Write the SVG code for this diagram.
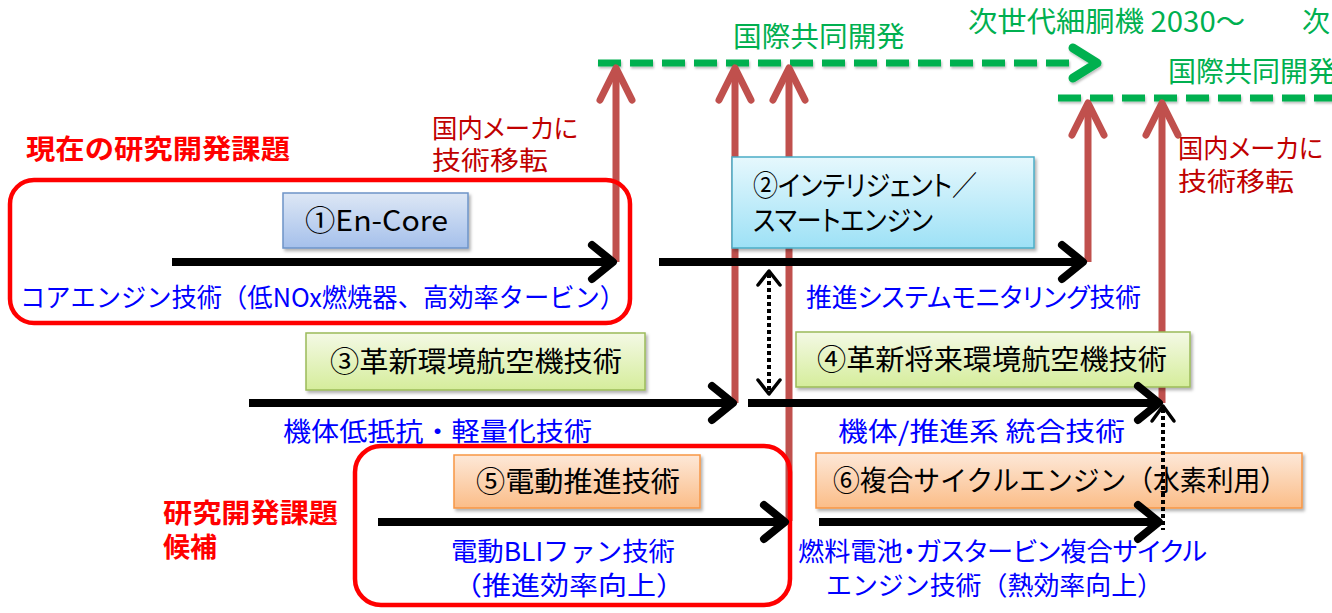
<svg xmlns="http://www.w3.org/2000/svg" width="1332" height="613" viewBox="0 0 1332 613">
<defs>
<style>
text{font-family:"Noto Sans CJK JP","Noto Sans",sans-serif;}
.p{font-feature-settings:"palt";}
.t{font-size:28px;fill:#000;}
.blue{font-size:26px;fill:#0000FF;}
.green{font-size:28px;fill:#00B050;}
.dred{font-size:26px;fill:#C00000;}
.red{font-size:27px;fill:#FF0000;font-weight:bold;}
.gdash{fill:none;stroke:#00B050;stroke-width:7;stroke-dasharray:23 9;}
.gchev{fill:none;stroke:#00B050;stroke-width:9;stroke-linecap:round;stroke-linejoin:round;}
.rarr{fill:none;stroke:#C0504D;stroke-width:7;stroke-linecap:round;stroke-linejoin:round;}
.rarr-line{fill:none;stroke:#C0504D;stroke-width:7;}
.barr{fill:none;stroke:#000;stroke-width:8;stroke-linecap:round;stroke-linejoin:round;}
.bline{fill:none;stroke:#000;stroke-width:8;}
.dot{fill:none;stroke:#000;stroke-width:4;stroke-dasharray:4 3;}
.dhead{fill:none;stroke:#000;stroke-width:3.5;stroke-linecap:round;stroke-linejoin:round;}
.frame{fill:none;stroke:#FF0000;stroke-width:4.5;}
</style>
<linearGradient id="gBlue" x1="0" y1="0" x2="0" y2="1"><stop offset="0" stop-color="#dde7f5"/><stop offset="1" stop-color="#a5c0eb"/></linearGradient>
<linearGradient id="gCyan" x1="0" y1="0" x2="0" y2="1"><stop offset="0" stop-color="#e6f8fd"/><stop offset="1" stop-color="#9de1f6"/></linearGradient>
<linearGradient id="gGreen" x1="0" y1="0" x2="0" y2="1"><stop offset="0" stop-color="#f4f9e5"/><stop offset="1" stop-color="#d5ed9b"/></linearGradient>
<linearGradient id="gOrange" x1="0" y1="0" x2="0" y2="1"><stop offset="0" stop-color="#fde8d8"/><stop offset="1" stop-color="#fbbd88"/></linearGradient>
<filter id="sh" x="-10%" y="-20%" width="125%" height="150%"><feDropShadow dx="2" dy="2.5" stdDeviation="1.8" flood-color="#000" flood-opacity="0.3"/></filter>
<filter id="shl" filterUnits="userSpaceOnUse" x="0" y="0" width="1332" height="613"><feDropShadow dx="1" dy="2" stdDeviation="1.2" flood-color="#000" flood-opacity="0.25"/></filter>
</defs>
<rect width="1332" height="613" fill="#fff"/>

<g id="intl1">
<path class="gdash" d="M598 63 H1069" filter="url(#shl)"/>
<path class="gchev" d="M1073 48 L1097 63 L1073 78" filter="url(#shl)"/>
<text class="green" x="733" y="47" textLength="172" lengthAdjust="spacingAndGlyphs">国際共同開発</text>
</g>
<g id="intl2">
<path class="gdash" d="M1058 98 H1340" filter="url(#shl)"/>
<text class="green" x="1168" y="82">国際共同開発</text>
</g>
<g id="nextgen">
<text class="green" x="968" y="32" textLength="277" lengthAdjust="spacingAndGlyphs">次世代細胴機 2030～</text>
<text class="green" x="1302" y="32">次</text>
</g>

<g id="connectors">
<path class="rarr-line" d="M616 262 V72"/>
<path class="rarr" d="M600 100 L616 68 L632 100"/>
<path class="rarr-line" d="M735 403 V72"/>
<path class="rarr" d="M719 100 L735 68 L751 100"/>
<path class="rarr-line" d="M789 521 V72"/>
<path class="rarr" d="M773 100 L789 68 L805 100"/>
<path class="rarr-line" d="M1088 262 V107"/>
<path class="rarr" d="M1072 135 L1088 103 L1104 135"/>
<path class="rarr-line" d="M1162 403 V107"/>
<path class="rarr" d="M1146 135 L1162 103 L1178 135"/>
</g>

<g id="frame-current">
<rect class="frame" x="10" y="180" width="620" height="143" rx="24"/>
<text class="red" x="26" y="159" textLength="264" lengthAdjust="spacingAndGlyphs">現在の研究開発課題</text>
</g>
<g id="frame-candidate">
<rect class="frame" x="355" y="446" width="435" height="159" rx="26"/>
<text class="red" x="163" y="523" textLength="175" lengthAdjust="spacingAndGlyphs">研究開発課題</text>
<text class="red" x="163" y="557">候補</text>
</g>

<g id="transfer1">
<text class="dred p" x="432" y="138" textLength="146" lengthAdjust="spacingAndGlyphs">国内メーカに</text>
<text class="dred" x="432" y="170" textLength="116" lengthAdjust="spacingAndGlyphs">技術移転</text>
</g>
<g id="transfer2">
<text class="dred p" x="1178" y="158" textLength="145" lengthAdjust="spacingAndGlyphs">国内メーカに</text>
<text class="dred" x="1178" y="191" textLength="116" lengthAdjust="spacingAndGlyphs">技術移転</text>
</g>

<g id="box1">
<rect x="283" y="193" width="185" height="55" fill="url(#gBlue)" stroke="#6d94c8" stroke-width="1.5" filter="url(#sh)"/>
<text class="t" x="305" y="231" textLength="143" lengthAdjust="spacingAndGlyphs">①En-Core</text>
</g>
<g id="box2">
<rect x="732" y="157" width="302" height="91" fill="url(#gCyan)" stroke="#4bacc6" stroke-width="1.5" filter="url(#sh)"/>
<text class="t p" x="753" y="196" textLength="224" lengthAdjust="spacingAndGlyphs">②インテリジェント／</text>
<text class="t p" x="753" y="231" textLength="180" lengthAdjust="spacingAndGlyphs">スマートエンジン</text>
</g>
<g id="box3">
<rect x="306" y="333" width="339" height="57" fill="url(#gGreen)" stroke="#9bbb59" stroke-width="1.5" filter="url(#sh)"/>
<text class="t" x="330" y="372" textLength="292" lengthAdjust="spacingAndGlyphs">③革新環境航空機技術</text>
</g>
<g id="box4">
<rect x="796" y="332" width="394" height="55" fill="url(#gGreen)" stroke="#9bbb59" stroke-width="1.5" filter="url(#sh)"/>
<text class="t" x="817" y="370" textLength="350" lengthAdjust="spacingAndGlyphs">④革新将来環境航空機技術</text>
</g>
<g id="box5">
<rect x="454" y="455" width="246" height="53" fill="url(#gOrange)" stroke="#f79646" stroke-width="1.5" filter="url(#sh)"/>
<text class="t" x="476" y="492" textLength="204" lengthAdjust="spacingAndGlyphs">⑤電動推進技術</text>
</g>
<g id="box6">
<rect x="816" y="453" width="486" height="55" fill="url(#gOrange)" stroke="#f79646" stroke-width="1.5" filter="url(#sh)"/>
<text class="t" x="833" y="491" textLength="454" lengthAdjust="spacingAndGlyphs">⑥複合サイクルエンジン（水素利用）</text>
</g>

<g id="arrows">
<path class="bline" d="M172 262 H608"/>
<path class="barr" d="M592 245 L613 262 L592 279"/>
<path class="bline" d="M659 262 H1078"/>
<path class="barr" d="M1062 245 L1083 262 L1062 279"/>
<path class="bline" d="M249 403 H728"/>
<path class="barr" d="M712 386 L733 403 L712 420"/>
<path class="bline" d="M748 403 H1154"/>
<path class="barr" d="M1138 386 L1159 403 L1138 420"/>
<path class="bline" d="M378 522 H780"/>
<path class="barr" d="M764 505 L785 522 L764 539"/>
<path class="bline" d="M819 522 H1154"/>
<path class="barr" d="M1138 505 L1159 522 L1138 539"/>
<path class="dot" d="M769 274 V390"/>
<path class="dhead" d="M758 285 L769 271 L780 285 M758 380 L769 394 L780 380"/>
<path class="dot" d="M1163 409 V530"/>
<path class="dhead" d="M1152 421 L1163 406 L1174 421"/>
</g>

<g id="labels">
<text class="blue" x="20" y="307" textLength="605" lengthAdjust="spacingAndGlyphs">コアエンジン技術（低NOx燃焼器、高効率タービン）</text>
<text class="blue p" x="806" y="307" textLength="335" lengthAdjust="spacingAndGlyphs">推進システムモニタリング技術</text>
<text class="blue" x="283" y="441" textLength="309" lengthAdjust="spacingAndGlyphs">機体低抵抗・軽量化技術</text>
<text class="blue" x="838" y="441" textLength="287" lengthAdjust="spacingAndGlyphs">機体/推進系 統合技術</text>
<text class="blue" x="451" y="561" textLength="224" lengthAdjust="spacingAndGlyphs">電動BLIファン技術</text>
<text class="blue" x="453" y="595" textLength="232" lengthAdjust="spacingAndGlyphs">（推進効率向上）</text>
<text class="blue p" x="798" y="561" textLength="409" lengthAdjust="spacingAndGlyphs">燃料電池・ガスタービン複合サイクル</text>
<text class="blue" x="826" y="595" textLength="337" lengthAdjust="spacingAndGlyphs">エンジン技術（熱効率向上）</text>
</g>
</svg>
